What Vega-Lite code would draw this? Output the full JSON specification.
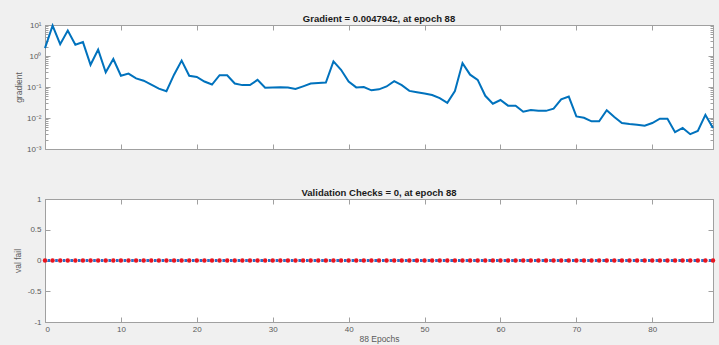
{
  "$schema": "https://vega.github.io/schema/vega-lite/v6.json",
  "background": "#f0f0f0",
  "padding": {"left": 12, "top": 13, "right": 4, "bottom": 2},
  "spacing": 33,
  "datasets": {
    "grad": [
      {"epoch": 0, "gradient": 1.8}, {"epoch": 1, "gradient": 9.5}, {"epoch": 2, "gradient": 2.4}, {"epoch": 3, "gradient": 6.6},
      {"epoch": 4, "gradient": 2.3}, {"epoch": 5, "gradient": 2.8}, {"epoch": 6, "gradient": 0.52}, {"epoch": 7, "gradient": 1.6},
      {"epoch": 8, "gradient": 0.3}, {"epoch": 9, "gradient": 0.8}, {"epoch": 10, "gradient": 0.23}, {"epoch": 11, "gradient": 0.27},
      {"epoch": 12, "gradient": 0.19}, {"epoch": 13, "gradient": 0.16}, {"epoch": 14, "gradient": 0.12}, {"epoch": 15, "gradient": 0.089},
      {"epoch": 16, "gradient": 0.073}, {"epoch": 17, "gradient": 0.25}, {"epoch": 18, "gradient": 0.71}, {"epoch": 19, "gradient": 0.23},
      {"epoch": 20, "gradient": 0.21}, {"epoch": 21, "gradient": 0.15}, {"epoch": 22, "gradient": 0.12}, {"epoch": 23, "gradient": 0.24},
      {"epoch": 24, "gradient": 0.24}, {"epoch": 25, "gradient": 0.13}, {"epoch": 26, "gradient": 0.115}, {"epoch": 27, "gradient": 0.115},
      {"epoch": 28, "gradient": 0.17}, {"epoch": 29, "gradient": 0.095}, {"epoch": 30, "gradient": 0.096}, {"epoch": 31, "gradient": 0.098},
      {"epoch": 32, "gradient": 0.096}, {"epoch": 33, "gradient": 0.086}, {"epoch": 34, "gradient": 0.105}, {"epoch": 35, "gradient": 0.13},
      {"epoch": 36, "gradient": 0.135}, {"epoch": 37, "gradient": 0.14}, {"epoch": 38, "gradient": 0.67}, {"epoch": 39, "gradient": 0.36},
      {"epoch": 40, "gradient": 0.15}, {"epoch": 41, "gradient": 0.097}, {"epoch": 42, "gradient": 0.1}, {"epoch": 43, "gradient": 0.078},
      {"epoch": 44, "gradient": 0.084}, {"epoch": 45, "gradient": 0.104}, {"epoch": 46, "gradient": 0.155}, {"epoch": 47, "gradient": 0.115},
      {"epoch": 48, "gradient": 0.075}, {"epoch": 49, "gradient": 0.068}, {"epoch": 50, "gradient": 0.062}, {"epoch": 51, "gradient": 0.055},
      {"epoch": 52, "gradient": 0.044}, {"epoch": 53, "gradient": 0.031}, {"epoch": 54, "gradient": 0.074}, {"epoch": 55, "gradient": 0.59},
      {"epoch": 56, "gradient": 0.25}, {"epoch": 57, "gradient": 0.17}, {"epoch": 58, "gradient": 0.052}, {"epoch": 59, "gradient": 0.029},
      {"epoch": 60, "gradient": 0.038}, {"epoch": 61, "gradient": 0.025}, {"epoch": 62, "gradient": 0.025}, {"epoch": 63, "gradient": 0.016},
      {"epoch": 64, "gradient": 0.018}, {"epoch": 65, "gradient": 0.017}, {"epoch": 66, "gradient": 0.017}, {"epoch": 67, "gradient": 0.02},
      {"epoch": 68, "gradient": 0.04}, {"epoch": 69, "gradient": 0.049}, {"epoch": 70, "gradient": 0.0112}, {"epoch": 71, "gradient": 0.0102},
      {"epoch": 72, "gradient": 0.0078}, {"epoch": 73, "gradient": 0.0078}, {"epoch": 74, "gradient": 0.0178}, {"epoch": 75, "gradient": 0.0107},
      {"epoch": 76, "gradient": 0.0069}, {"epoch": 77, "gradient": 0.0064}, {"epoch": 78, "gradient": 0.0061}, {"epoch": 79, "gradient": 0.0056},
      {"epoch": 80, "gradient": 0.0069}, {"epoch": 81, "gradient": 0.0095}, {"epoch": 82, "gradient": 0.0095}, {"epoch": 83, "gradient": 0.0035},
      {"epoch": 84, "gradient": 0.0048}, {"epoch": 85, "gradient": 0.003}, {"epoch": 86, "gradient": 0.0038}, {"epoch": 87, "gradient": 0.0126},
      {"epoch": 88, "gradient": 0.0047942}
    ],
    "vf": [
      {"epoch": 0, "valfail": 0}, {"epoch": 1, "valfail": 0}, {"epoch": 2, "valfail": 0}, {"epoch": 3, "valfail": 0}, {"epoch": 4, "valfail": 0},
      {"epoch": 5, "valfail": 0}, {"epoch": 6, "valfail": 0}, {"epoch": 7, "valfail": 0}, {"epoch": 8, "valfail": 0}, {"epoch": 9, "valfail": 0},
      {"epoch": 10, "valfail": 0}, {"epoch": 11, "valfail": 0}, {"epoch": 12, "valfail": 0}, {"epoch": 13, "valfail": 0}, {"epoch": 14, "valfail": 0},
      {"epoch": 15, "valfail": 0}, {"epoch": 16, "valfail": 0}, {"epoch": 17, "valfail": 0}, {"epoch": 18, "valfail": 0}, {"epoch": 19, "valfail": 0},
      {"epoch": 20, "valfail": 0}, {"epoch": 21, "valfail": 0}, {"epoch": 22, "valfail": 0}, {"epoch": 23, "valfail": 0}, {"epoch": 24, "valfail": 0},
      {"epoch": 25, "valfail": 0}, {"epoch": 26, "valfail": 0}, {"epoch": 27, "valfail": 0}, {"epoch": 28, "valfail": 0}, {"epoch": 29, "valfail": 0},
      {"epoch": 30, "valfail": 0}, {"epoch": 31, "valfail": 0}, {"epoch": 32, "valfail": 0}, {"epoch": 33, "valfail": 0}, {"epoch": 34, "valfail": 0},
      {"epoch": 35, "valfail": 0}, {"epoch": 36, "valfail": 0}, {"epoch": 37, "valfail": 0}, {"epoch": 38, "valfail": 0}, {"epoch": 39, "valfail": 0},
      {"epoch": 40, "valfail": 0}, {"epoch": 41, "valfail": 0}, {"epoch": 42, "valfail": 0}, {"epoch": 43, "valfail": 0}, {"epoch": 44, "valfail": 0},
      {"epoch": 45, "valfail": 0}, {"epoch": 46, "valfail": 0}, {"epoch": 47, "valfail": 0}, {"epoch": 48, "valfail": 0}, {"epoch": 49, "valfail": 0},
      {"epoch": 50, "valfail": 0}, {"epoch": 51, "valfail": 0}, {"epoch": 52, "valfail": 0}, {"epoch": 53, "valfail": 0}, {"epoch": 54, "valfail": 0},
      {"epoch": 55, "valfail": 0}, {"epoch": 56, "valfail": 0}, {"epoch": 57, "valfail": 0}, {"epoch": 58, "valfail": 0}, {"epoch": 59, "valfail": 0},
      {"epoch": 60, "valfail": 0}, {"epoch": 61, "valfail": 0}, {"epoch": 62, "valfail": 0}, {"epoch": 63, "valfail": 0}, {"epoch": 64, "valfail": 0},
      {"epoch": 65, "valfail": 0}, {"epoch": 66, "valfail": 0}, {"epoch": 67, "valfail": 0}, {"epoch": 68, "valfail": 0}, {"epoch": 69, "valfail": 0},
      {"epoch": 70, "valfail": 0}, {"epoch": 71, "valfail": 0}, {"epoch": 72, "valfail": 0}, {"epoch": 73, "valfail": 0}, {"epoch": 74, "valfail": 0},
      {"epoch": 75, "valfail": 0}, {"epoch": 76, "valfail": 0}, {"epoch": 77, "valfail": 0}, {"epoch": 78, "valfail": 0}, {"epoch": 79, "valfail": 0},
      {"epoch": 80, "valfail": 0}, {"epoch": 81, "valfail": 0}, {"epoch": 82, "valfail": 0}, {"epoch": 83, "valfail": 0}, {"epoch": 84, "valfail": 0},
      {"epoch": 85, "valfail": 0}, {"epoch": 86, "valfail": 0}, {"epoch": 87, "valfail": 0}, {"epoch": 88, "valfail": 0}
    ]
  },
  "vconcat": [
    {
      "title": {"text": "Gradient = 0.0047942, at epoch 88"},
      "width": 668,
      "height": 124,
      "data": {"name": "grad"},
      "layer": [
        {
          "mark": {"type": "line", "color": "#0072BD", "strokeWidth": 2},
          "encoding": {
            "x": {"field": "epoch", "type": "quantitative", "scale": {"domain": [0, 88], "nice": false},
                  "axis": {"orient": "bottom", "values": [0, 10, 20, 30, 40, 50, 60, 70, 80], "labels": false, "title": null, "tickSize": -5}},
            "y": {"field": "gradient", "type": "quantitative", "scale": {"type": "log", "domain": [0.001, 10], "nice": false},
                  "axis": {"orient": "left", "title": "gradient", "titlePadding": 3,
                           "values": [0.001, 0.002, 0.003, 0.004, 0.005, 0.006, 0.007, 0.008, 0.009, 0.01, 0.02, 0.03, 0.04, 0.05, 0.06, 0.07, 0.08, 0.09, 0.1, 0.2, 0.3, 0.4, 0.5, 0.6, 0.7, 0.8, 0.9, 1, 2, 3, 4, 5, 6, 7, 8, 9, 10],
                           "labelExpr": "datum.value == 10 ? '10¹' : datum.value == 1 ? '10⁰' : datum.value == 0.1 ? '10⁻¹' : datum.value == 0.01 ? '10⁻²' : datum.value == 0.001 ? '10⁻³' : ''",
                           "tickSize": {"condition": {"test": "indexof([0.001, 0.01, 0.1, 1, 10], datum.value) >= 0", "value": -5}, "value": -3},
                           "labelPadding": 9, "labelOverlap": false}}
          }
        },
        {
          "mark": {"type": "line", "opacity": 0},
          "encoding": {
            "x": {"field": "epoch", "type": "quantitative", "scale": {"domain": [0, 88], "nice": false},
                  "axis": {"orient": "top", "values": [0, 10, 20, 30, 40, 50, 60, 70, 80], "labels": false, "title": null, "tickSize": -5}},
            "y": {"field": "gradient", "type": "quantitative", "scale": {"type": "log", "domain": [0.001, 10], "nice": false},
                  "axis": {"orient": "right", "title": null, "labels": false,
                           "values": [0.001, 0.002, 0.003, 0.004, 0.005, 0.006, 0.007, 0.008, 0.009, 0.01, 0.02, 0.03, 0.04, 0.05, 0.06, 0.07, 0.08, 0.09, 0.1, 0.2, 0.3, 0.4, 0.5, 0.6, 0.7, 0.8, 0.9, 1, 2, 3, 4, 5, 6, 7, 8, 9, 10],
                           "tickSize": {"condition": {"test": "indexof([0.001, 0.01, 0.1, 1, 10], datum.value) >= 0", "value": -5}, "value": -3}}}
          }
        }
      ],
      "resolve": {"axis": {"x": "independent", "y": "independent"}}
    },
    {
      "title": {"text": "Validation Checks = 0, at epoch 88"},
      "width": 668,
      "height": 123,
      "data": {"name": "vf"},
      "layer": [
        {
          "mark": {"type": "line", "color": "#2a6fc9", "strokeWidth": 3, "strokeDash": [2.6, 5.0], "strokeDashOffset": 5.0},
          "encoding": {
            "x": {"field": "epoch", "type": "quantitative", "scale": {"domain": [0, 88], "nice": false},
                  "axis": {"orient": "bottom", "values": [0, 10, 20, 30, 40, 50, 60, 70, 80], "title": "88 Epochs", "tickSize": -5, "labelPadding": 8, "titlePadding": 1}},
            "y": {"field": "valfail", "type": "quantitative", "scale": {"domain": [-1, 1], "nice": false},
                  "axis": {"orient": "left", "title": "val fail", "titlePadding": 5, "values": [-1, -0.5, 0, 0.5, 1], "labelExpr": "toString(datum.value)", "tickSize": -5, "labelPadding": 9}}
          }
        },
        {
          "mark": {"type": "point", "shape": "circle", "filled": true, "color": "#e8141e", "size": 20, "opacity": 1},
          "encoding": {
            "x": {"field": "epoch", "type": "quantitative", "scale": {"domain": [0, 88], "nice": false},
                  "axis": {"orient": "top", "values": [0, 10, 20, 30, 40, 50, 60, 70, 80], "labels": false, "title": null, "tickSize": -5}},
            "y": {"field": "valfail", "type": "quantitative", "scale": {"domain": [-1, 1], "nice": false},
                  "axis": {"orient": "right", "title": null, "labels": false, "values": [-1, -0.5, 0, 0.5, 1], "tickSize": -5}}
          }
        }
      ],
      "resolve": {"axis": {"x": "independent", "y": "independent"}}
    }
  ],
  "config": {
    "font": "Liberation Sans",
    "view": {"fill": "white", "stroke": "#a0a0a0", "strokeWidth": 1},
    "axis": {"grid": false, "domainColor": "#a0a0a0", "tickColor": "#a0a0a0", "labelColor": "#5a5a5a", "labelFontSize": 8,
             "titleFontSize": 8.5, "titleFontWeight": "normal", "titleColor": "#5a5a5a"},
    "title": {"fontSize": 9.5, "fontWeight": "bold", "color": "#1a1a1a", "anchor": "middle", "offset": -2}
  }
}
